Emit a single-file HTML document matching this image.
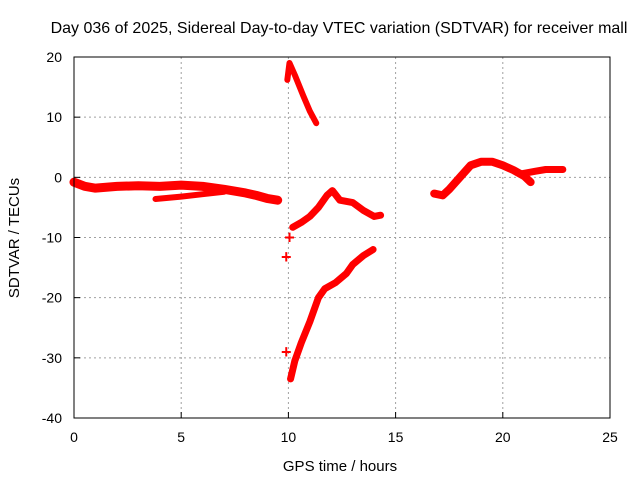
<!DOCTYPE html>
<html><head><meta charset="utf-8"><style>
body{margin:0;background:#fff;}
svg{display:block;font-family:"Liberation Sans",sans-serif;}
</style></head><body>
<svg id="chart" width="640" height="480">
<rect width="640" height="480" fill="#fff"/>
<text x="339" y="33" text-anchor="middle" font-size="16">Day 036 of 2025, Sidereal Day-to-day VTEC variation (SDTVAR) for receiver mall</text>
<text x="340" y="471" text-anchor="middle" font-size="15">GPS time / hours</text>
<text transform="translate(19,238) rotate(-90)" text-anchor="middle" font-size="15">SDTVAR / TECUs</text>
<g id="grid"></g><g id="ticks"></g><g id="marks"></g>
<rect x="74" y="57" width="536" height="361" fill="none" stroke="#000" stroke-width="1"/>
</svg>
<script>
const xTicks=[0,5,10,15,20,25];
const yTicks=[20,10,0,-10,-20,-30,-40];
const seriesA=[[0,-0.8],[0.5,-1.5],[1,-1.8],[2,-1.5],[3,-1.4],[4,-1.5],[5,-1.3],[6,-1.5],[7,-2],[8,-2.6],[8.5,-3],[9,-3.5],[9.5,-3.8]];
const seriesA2=[[3.8,-3.6],[5,-3.2],[6,-2.8],[7,-2.4]];
const seriesB=[[9.95,16.2],[10.05,19],[10.3,17],[10.7,13.5],[11,11],[11.3,9]];
const seriesC=[[10.2,-8.3],[10.6,-7.5],[11,-6.5],[11.4,-5],[11.8,-3],[12.05,-2.2],[12.4,-3.8],[13,-4.2],[13.5,-5.5],[14,-6.5],[14.3,-6.3]];
const seriesD=[[10.1,-33.5],[10.3,-30.5],[10.6,-27.5],[11,-24],[11.4,-20],[11.7,-18.5],[12.2,-17.5],[12.7,-16],[13,-14.5],[13.5,-13],[13.95,-12]];
const seriesE=[[16.8,-2.7],[17.2,-3],[17.5,-2],[18,0],[18.5,2],[19,2.6],[19.5,2.6],[20,2],[20.5,1.2],[21,0.2],[21.3,-0.8]];
const seriesE2=[[20.9,0.6],[21.5,1],[22,1.3],[22.8,1.3]];
const isolated=[[9.9,-29],[9.9,-13.2],[10.05,-10]];
const X=v=>74+v*536/25, Y=v=>57+(20-v)*361/60;
const NS="http://www.w3.org/2000/svg";
const grid=document.getElementById('grid'),ticks=document.getElementById('ticks'),marks=document.getElementById('marks');
function mk(t,a,p){const e=document.createElementNS(NS,t);for(const k in a)e.setAttribute(k,a[k]);p.appendChild(e);return e;}
xTicks.forEach(v=>{
 if(v>0&&v<25){const g=mk('line',{x1:X(v),x2:X(v),y1:57,y2:418,stroke:'#a0a0a0','stroke-dasharray':'2,3'},grid);
 
 }
 mk('line',{x1:X(v),x2:X(v),y1:418,y2:412,stroke:'#000'},ticks);
 const t=mk('text',{x:X(v),y:442,'text-anchor':'middle','font-size':'14'},ticks);t.textContent=v;
 
 
});
yTicks.forEach(v=>{
 if(v<20&&v>-40){const g=mk('line',{x1:74,x2:610,y1:Y(v),y2:Y(v),stroke:'#a0a0a0','stroke-dasharray':'2,3'},grid);
 
 }
 mk('line',{x1:74,x2:80,y1:Y(v),y2:Y(v),stroke:'#000'},ticks);
 const t=mk('text',{x:62,y:Y(v)+5,'text-anchor':'end','font-size':'14'},ticks);t.textContent=v;
 
 
});
function line(d,w,name){
 const p=mk('polyline',{points:d.map(q=>X(q[0])+','+Y(q[1])).join(' '),fill:'none',stroke:'#ff0000','stroke-width':w,'stroke-linejoin':'round','stroke-linecap':'round'},marks);
 
 
}
line(seriesA,9,'series-a');line(seriesA2,6,'series-a-lower');line(seriesB,6,'series-b');
line(seriesC,7,'series-c');line(seriesD,7,'series-d');line(seriesE,8,'series-e');line(seriesE2,7,'series-e-tail');
isolated.forEach(q=>{
 const t=mk('text',{x:X(q[0]),y:Y(q[1])+6,'text-anchor':'middle','font-size':'18','font-weight':'bold',fill:'#ff0000'},marks);t.textContent='+';
 
 
});
</script>
</body></html>
